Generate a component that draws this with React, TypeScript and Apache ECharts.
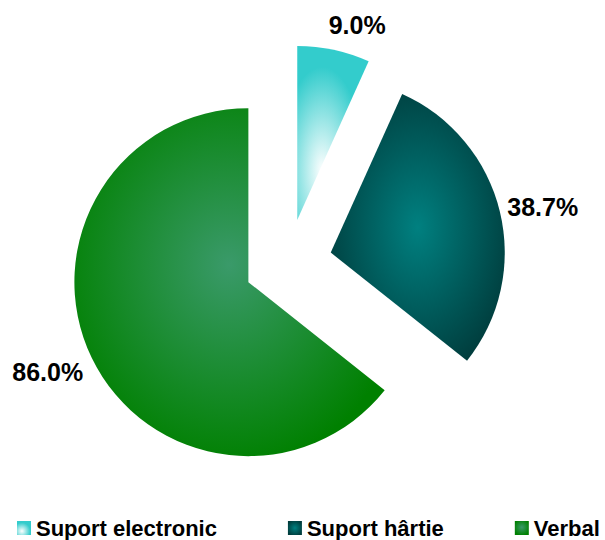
import React, { useEffect, useRef } from 'react';
import * as echarts from 'echarts';

const categories = ['Suport electronic', 'Suport hârtie', 'Verbal'];
const values = [9.0, 38.7, 86.0];

const FONT = '"Liberation Sans", Arial, sans-serif';
// small label nudges (px) per slice, style only
const labelNudge: [number, number][] = [
  [15, 14],
  [4, 5],
  [-8, -3],
];

export default function App() {
  const ref = useRef<HTMLDivElement>(null);
  useEffect(() => {
    if (!ref.current) return;
    const chart = echarts.init(ref.current, null, { renderer: 'svg' });
    const gradients = [
      new echarts.graphic.RadialGradient(0.35, 0.72, 0.6, [
        { offset: 0, color: '#ffffff' },
        { offset: 1, color: '#33cccc' },
      ]),
      new echarts.graphic.RadialGradient(0.5, 0.5, 0.58, [
        { offset: 0, color: '#008080' },
        { offset: 1, color: '#003c3c' },
      ]),
      new echarts.graphic.RadialGradient(0.5, 0.45, 0.58, [
        { offset: 0, color: '#3a9a6a' },
        { offset: 1, color: '#008000' },
      ]),
    ];
    const mainData = categories.map((name, i) => ({
      name,
      value: values[i],
      selected: true,
      itemStyle: { color: gradients[i] },
    }));
    const labelData = categories.map((name, i) => ({
      name,
      value: values[i],
      selected: true,
    }));
    chart.setOption({
      animation: false,
      legend: {
        left: 17,
        right: 0,
        top: 517,
        padding: 0,
        orient: 'horizontal',
        icon: 'rect',
        itemWidth: 14,
        itemHeight: 14,
        itemGap: 71,
        textStyle: {
          fontSize: 22,
          fontWeight: 'bold',
          color: '#000',
          fontFamily: FONT,
        },
        data: categories,
      },
      series: [
        {
          type: 'pie',
          center: [288, 263],
          radius: [0, 174],
          startAngle: 90,
          clockwise: true,
          selectedMode: 'multiple',
          selectedOffset: 44,
          label: { show: false },
          labelLine: { show: false },
          emphasis: { disabled: true },
          data: mainData,
        },
        {
          type: 'pie',
          center: [288, 263],
          radius: [201, 221],
          startAngle: 90,
          clockwise: true,
          selectedMode: 'multiple',
          selectedOffset: 44,
          silent: true,
          itemStyle: { color: 'rgba(0,0,0,0)' },
          emphasis: { disabled: true },
          label: {
            show: true,
            position: 'inside',
            formatter: (p: any) => Number(p.value).toFixed(1) + '%',
            fontSize: 25,
            fontWeight: 'bold',
            color: '#000',
            fontFamily: FONT,
          },
          labelLine: { show: false },
          labelLayout: (p: any) => ({
            dx: labelNudge[p.dataIndex][0],
            dy: labelNudge[p.dataIndex][1],
          }),
          data: labelData,
        },
      ],
    });
    return () => chart.dispose();
  }, []);
  return (
    <div
      ref={ref}
      style={{ position: 'absolute', left: 0, top: 0, width: 605, height: 540 }}
    />
  );
}
